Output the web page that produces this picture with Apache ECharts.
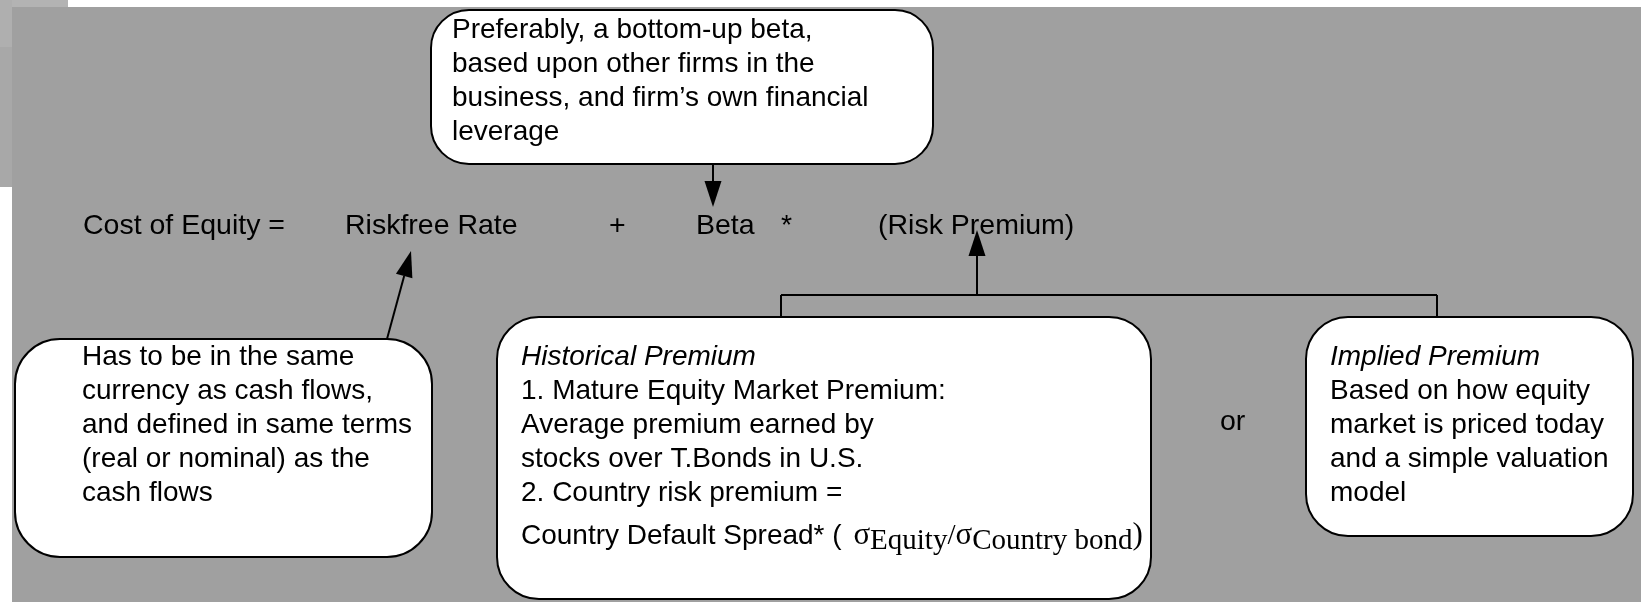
<!DOCTYPE html>
<html>
<head>
<meta charset="utf-8">
<title>Cost of Equity</title>
<script src="https://cdn.jsdelivr.net/npm/echarts@6/dist/echarts.min.js"></script>
<style>
html, body { margin: 0; padding: 0; background: #fff; }
#main { width: 1641px; height: 602px; }
</style>
</head>
<body>
<div id="main"></div>
<script>
'use strict';
// 公式各项
var formulaTerms = ['Cost of Equity =', 'Riskfree Rate', '+', 'Beta', '*', '(Risk Premium)'];
// 各说明框文字
var betaNote = ['Preferably, a bottom-up beta,', 'based upon other firms in the', 'business, and firm\u2019s own financial', 'leverage'];
var riskfreeNote = ['Has to be in the same', 'currency as cash flows,', 'and defined in same terms', '(real or nominal) as the', 'cash flows'];
var historicalTitle = 'Historical Premium';
var historicalLines = ['1. Mature Equity Market Premium:', 'Average premium earned by', 'stocks over T.Bonds in U.S.', '2. Country risk premium ='];
var crpParts = ['Country Default Spread* ( ', '\u03c3', 'Equity', '/', '\u03c3', 'Country bond', ')'];
var impliedTitle = 'Implied Premium';
var impliedLines = ['Based on how equity', 'market is priced today', 'and a simple valuation', 'model'];
var orLabel = 'or';

// 版面
var SANS = '"Liberation Sans", Arial, Helvetica, sans-serif';
var SERIF = '"Liberation Serif", "Times New Roman", serif';
var FS = 28;
var FS_FORMULA = 28.5;
var LH = 34;
var MID = 10;
var termX = [83, 345, 609, 696, 781, 878];
var termBase = 236;

var boxes = [
    {rect: [431, 10, 933, 164], r: 38, tx: 452, base: 40, italic: false, lines: betaNote},
    {rect: [15, 339, 432, 557], r: 45, tx: 82, base: 367, italic: false, lines: riskfreeNote},
    {rect: [497, 317, 1151, 599], r: 42, tx: 521, base: 367, italic: true, lines: [historicalTitle].concat(historicalLines)},
    {rect: [1306, 317, 1633, 536], r: 42, tx: 1330, base: 367, italic: true, lines: [impliedTitle].concat(impliedLines)}
];
var crpPos = {x: 521, base: 546, sub: 5};
var orPos = [1220, 432];

// 连接线 [x1, y1, x2, y2, 是否箭头]
var connectors = [
    [713, 164, 713, 207, 1],
    [387, 339, 411, 251, 1],
    [977, 295, 977, 230, 1],
    [781, 295, 1437, 295, 0],
    [781, 295, 781, 318, 0],
    [1437, 295, 1437, 318, 0]
];

var measureCtx = document.createElement('canvas').getContext('2d');
function textWidth(str, font) {
    measureCtx.font = font;
    return measureCtx.measureText(str).width;
}

function textEl(str, x, y, font) {
    return {
        type: 'text',
        style: {text: str, x: x, y: y, font: font, fill: '#000', verticalAlign: 'middle', align: 'left'}
    };
}

function renderBox(params, api) {
    var b = boxes[params.dataIndex];
    var p1 = api.coord([api.value(0), api.value(1)]);
    var p2 = api.coord([api.value(2), api.value(3)]);
    var children = [{
        type: 'rect',
        shape: {x: p1[0], y: p1[1], width: p2[0] - p1[0], height: p2[1] - p1[1], r: b.r},
        style: {fill: '#fff', stroke: '#000', lineWidth: 2}
    }];
    b.lines.forEach(function (line, k) {
        var pt = api.coord([b.tx, b.base + k * LH]);
        var font = (b.italic && k === 0 ? 'italic ' : '') + FS + 'px ' + SANS;
        children.push(textEl(line, pt[0], pt[1] - MID, font));
    });
    // 国家风险溢价公式行
    if (params.dataIndex === 2) {
        var fonts = [FS + 'px ' + SANS, '31px ' + SERIF, '29px ' + SERIF, '29px ' + SERIF, '31px ' + SERIF, '29px ' + SERIF, '31px ' + SERIF];
        var subs = [0, 0, 1, 0, 0, 1, 0];
        var x = api.coord([crpPos.x, 0])[0];
        crpParts.forEach(function (part, k) {
            var pt = api.coord([0, crpPos.base + subs[k] * crpPos.sub]);
            children.push(textEl(part, x, pt[1] - MID, fonts[k]));
            x += textWidth(part, fonts[k]) + (k === 0 ? 4 : 0);
        });
    }
    return {type: 'group', children: children};
}

function renderTerm(params, api) {
    var pt = api.coord([api.value(0), api.value(1)]);
    var str = params.seriesName === 'or' ? orLabel : formulaTerms[params.dataIndex];
    return textEl(str, pt[0], pt[1] - MID, FS_FORMULA + 'px ' + SANS);
}

function renderConnector(params, api) {
    var a = api.coord([api.value(0), api.value(1)]);
    var b = api.coord([api.value(2), api.value(3)]);
    var arrow = api.value(4);
    if (!arrow) {
        return {type: 'line', shape: {x1: a[0], y1: a[1], x2: b[0], y2: b[1]}, style: {stroke: '#000', lineWidth: 2}};
    }
    var dx = b[0] - a[0], dy = b[1] - a[1];
    var len = Math.sqrt(dx * dx + dy * dy);
    var ux = dx / len, uy = dy / len;
    var hl = 26, hw = 8.5;
    var bx = b[0] - ux * hl, by = b[1] - uy * hl;
    return {
        type: 'group',
        children: [
            {type: 'line', shape: {x1: a[0], y1: a[1], x2: bx, y2: by}, style: {stroke: '#000', lineWidth: 2}},
            {type: 'polygon', shape: {points: [[b[0], b[1]], [bx - uy * hw, by + ux * hw], [bx + uy * hw, by - ux * hw]]}, style: {fill: '#000'}}
        ]
    };
}

var myChart = echarts.init(document.getElementById('main'));
var option = {
    backgroundColor: '#fff',
    animation: false,
    grid: {left: 0, right: 0, top: 0, bottom: 0},
    xAxis: {type: 'value', min: 0, max: 1641, show: false},
    yAxis: {type: 'value', min: 0, max: 602, inverse: true, show: false},
    graphic: [
        {type: 'rect', z: 0, shape: {x: 12, y: 7, width: 1629, height: 595}, style: {fill: '#a0a0a0'}},
        {type: 'rect', z: 0, shape: {x: 0, y: 0, width: 68, height: 7}, style: {fill: '#b3b3b3'}},
        {type: 'rect', z: 0, shape: {x: 0, y: 0, width: 12, height: 47}, style: {fill: '#afafaf'}},
        {type: 'rect', z: 0, shape: {x: 0, y: 47, width: 12, height: 140}, style: {fill: '#a8a8a8'}}
    ],
    series: [
        {
            name: 'connectors',
            type: 'custom',
            clip: false,
            renderItem: renderConnector,
            encode: {x: [0, 2], y: [1, 3]},
            data: connectors
        },
        {
            name: 'boxes',
            type: 'custom',
            clip: false,
            renderItem: renderBox,
            encode: {x: [0, 2], y: [1, 3]},
            data: boxes.map(function (b) { return b.rect; })
        },
        {
            name: 'formula',
            type: 'custom',
            clip: false,
            renderItem: renderTerm,
            encode: {x: 0, y: 1},
            data: termX.map(function (x) { return [x, termBase]; })
        },
        {
            name: 'or',
            type: 'custom',
            clip: false,
            renderItem: renderTerm,
            encode: {x: 0, y: 1},
            data: [orPos]
        }
    ]
};
myChart.setOption(option);
</script>
</body>
</html>
